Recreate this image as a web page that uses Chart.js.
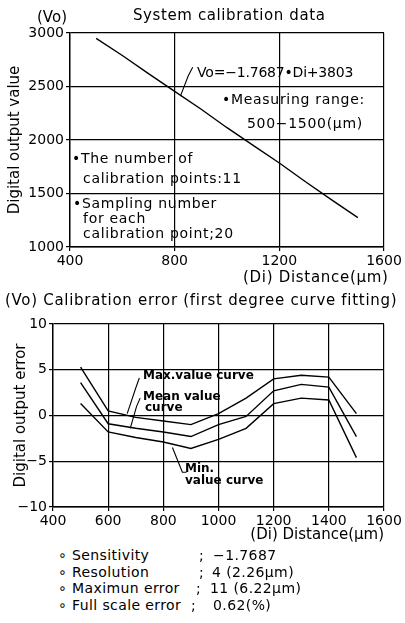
<!DOCTYPE html>
<html><head><meta charset="utf-8">
<script src="https://cdn.jsdelivr.net/npm/chart.js@4.4.1/dist/chart.umd.min.js"></script>
<style>
html,body{margin:0;padding:0;background:#fff;}
body{width:405px;height:623px;position:relative;overflow:hidden;font-family:"DejaVu Sans",sans-serif;color:#000;}
canvas{position:absolute;left:0;}
.t{position:absolute;white-space:nowrap;line-height:1;transform:translateY(-50%);}
.a{font-size:14px;letter-spacing:0.7px;}
.b{font-size:12px;font-weight:bold;}
.l{font-size:14px;letter-spacing:0.4px;}
</style></head><body>
<canvas id="c1" width="405" height="290" style="top:0"></canvas>
<canvas id="c2" width="405" height="235" style="top:310px"></canvas>

<div class="t" style="left:37px;top:17px;font-size:15px">(Vo)</div>
<div class="t" style="left:133px;top:15px;font-size:15px;letter-spacing:0.6px">System calibration data</div>
<div class="t" style="left:243px;top:277px;font-size:15px;letter-spacing:0.7px">(Di) Distance(μm)</div>

<div class="t a" style="left:197px;top:72px;letter-spacing:-0.2px">Vo=−1.7687•Di+3803</div>
<div class="t a" style="left:222px;top:99px">•Measuring range:</div>
<div class="t a" style="left:247px;top:123px">500−1500(μm)</div>
<div class="t a" style="left:72px;top:158px">•The number of</div>
<div class="t a" style="left:83px;top:178px">calibration points:11</div>
<div class="t a" style="left:73px;top:203px">•Sampling number</div>
<div class="t a" style="left:83px;top:218px">for each</div>
<div class="t a" style="left:83px;top:233px">calibration point;20</div>

<div class="t" style="left:5px;top:300px;font-size:15px;letter-spacing:0.7px">(Vo) Calibration error (first degree curve fitting)</div>

<div class="t b" style="left:143px;top:375px">Max.value curve</div>
<div class="t b" style="left:143px;top:396px">Mean value</div>
<div class="t b" style="left:145px;top:407px">curve</div>
<div class="t b" style="left:185px;top:468px">Min.</div>
<div class="t b" style="left:185px;top:480px">value curve</div>

<div class="t l" style="left:58px;top:555px">∘ Sensitivity</div><div class="t l" style="left:199px;top:555px">;</div><div class="t l" style="left:213px;top:555px">−1.7687</div>
<div class="t l" style="left:58px;top:572px">∘ Resolution</div><div class="t l" style="left:199px;top:572px">;</div><div class="t l" style="left:212px;top:572px">4 (2.26μm)</div>
<div class="t l" style="left:58px;top:588px">∘ Maximun error</div><div class="t l" style="left:196px;top:588px">;</div><div class="t l" style="left:210px;top:588px">11 (6.22μm)</div>
<div class="t l" style="left:58px;top:605px">∘ Full scale error</div><div class="t l" style="left:191px;top:605px">;</div><div class="t l" style="left:213px;top:605px">0.62(%)</div>

<script>
// ---- data ----
const distances = [500, 600, 700, 800, 900, 1000, 1100, 1200, 1300, 1400, 1500];
const outputValues = [2950, 2790, 2620, 2455, 2290, 2115, 1950, 1785, 1610, 1440, 1275];
const maxError  = [5.3, 0.5, -0.2, -0.6, -1.0, 0.2, 1.9, 4.0, 4.4, 4.2, 0.2];
const meanError = [3.6, -0.9, -1.4, -1.8, -2.3, -1.0, -0.1, 2.7, 3.4, 3.1, -2.3];
const minError  = [1.3, -1.8, -2.4, -2.9, -3.6, -2.6, -1.4, 1.3, 1.9, 1.7, -4.6];
const xTicks1 = [400, 800, 1200, 1600];
const yTicks1 = [1000, 1500, 2000, 2500, 3000];
const xTicks2 = [400, 600, 800, 1000, 1200, 1400, 1600];
const yTicks2 = [-10, -5, 0, 5, 10];
// leader lines (data coordinates)
const leaders1 = [[[869, 2680], [852, 2600], [822, 2410]]];
const leaders2 = [
  [[713, 4.1], [700, 3.0], [669, 0.2]],
  [[716, 1.9], [703, 1.0], [680, -1.4]],
  [[833, -3.5], [869, -6.2], [884, -6.2]]
];

const F = '"DejaVu Sans", sans-serif';
const leaderPlugin = {
  id: 'leaders',
  afterDatasetsDraw(chart, args, opts) {
    const {ctx, scales: {x, y}} = chart;
    ctx.save(); ctx.strokeStyle = '#000'; ctx.lineWidth = 1.1;
    (opts.lines || []).forEach(pts => {
      ctx.beginPath();
      pts.forEach((p, i) => {
        const px = x.getPixelForValue(p[0]), py = y.getPixelForValue(p[1]);
        i ? ctx.lineTo(px, py) : ctx.moveTo(px, py);
      });
      ctx.stroke();
    });
    ctx.restore();
  }
};

function toPts(xs, ys) { return xs.map((v, i) => ({x: v, y: ys[i]})); }
function lineDs(data) {
  return {data, borderColor: '#000', borderWidth: 1.4, pointRadius: 0, tension: 0, fill: false};
}
function axis(ticksArr, extra) {
  return Object.assign({
    type: 'linear',
    afterBuildTicks: s => { s.ticks = ticksArr.map(v => ({value: v})); },
    grid: {color: '#000', lineWidth: 1.2, tickLength: 4},
    border: {color: '#000', width: 1.4},
    ticks: {color: '#000', font: {family: F, size: 14}, maxRotation: 0, autoSkip: false, padding: 2,
            callback: v => String(v).replace('-', '−')}
  }, extra);
}

new Chart(document.getElementById('c1'), {
  type: 'line',
  data: {datasets: [lineDs(toPts(distances, outputValues))]},
  options: {
    responsive: false, animation: false, events: [],
    layout: {padding: {top: 33, right: 21, left: 0, bottom: 0}},
    plugins: {legend: {display: false}, tooltip: {enabled: false}, leaders: {lines: leaders1}},
    scales: {
      x: axis(xTicks1, {min: 400, max: 1600,
        afterFit: s => { s.height = 43; }}),
      y: axis(yTicks1, {min: 1000, max: 3000,
        title: {display: true, text: 'Digital output value', color: '#000', font: {family: F, size: 15}, padding: {top: 6, bottom: 0}},
        afterFit: s => { s.width = 70; }})
    }
  },
  plugins: [leaderPlugin]
});

new Chart(document.getElementById('c2'), {
  type: 'line',
  data: {datasets: [
    lineDs(toPts(distances, maxError)),
    lineDs(toPts(distances, meanError)),
    lineDs(toPts(distances, minError))
  ]},
  options: {
    responsive: false, animation: false, events: [],
    layout: {padding: {top: 14, right: 21, left: 0, bottom: 0}},
    plugins: {legend: {display: false}, tooltip: {enabled: false}, leaders: {lines: leaders2}},
    scales: {
      x: axis(xTicks2, {min: 400, max: 1600,
        title: {display: true, text: '(Di) Distance(μm)', align: 'end', color: '#000', font: {family: F, size: 15}, padding: {top: 0, bottom: 1}},
        afterFit: s => { s.height = 38; }}),
      y: axis(yTicks2, {min: -10, max: 10,
        title: {display: true, text: 'Digital output error', color: '#000', font: {family: F, size: 15}, padding: {top: 12, bottom: 0}},
        afterFit: s => { s.width = 53; }})
    }
  },
  plugins: [leaderPlugin]
});
</script>
</body></html>
